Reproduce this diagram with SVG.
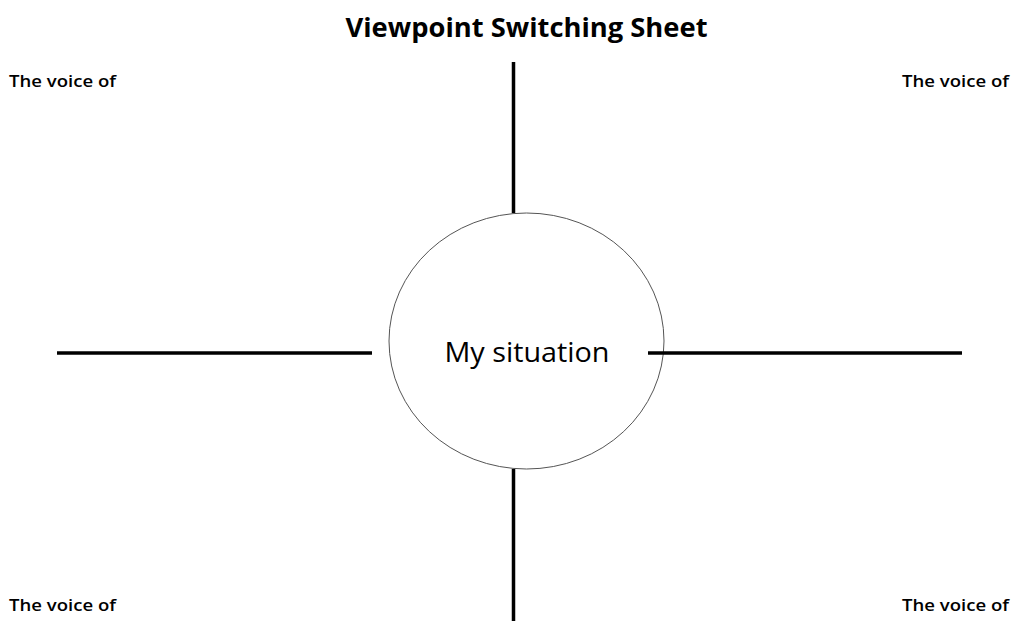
<svg xmlns="http://www.w3.org/2000/svg" width="1011" height="621" viewBox="0 0 1011 621">
  <style>
    .title { font-family: "Open Sans", "Noto Sans", sans-serif; font-weight: bold; font-size: 27px; fill: #000; }
    .voice { font-family: "Open Sans", "Noto Sans", sans-serif; font-weight: 600; font-size: 17px; fill: #000; }
    .center { font-family: "Open Sans", "Noto Sans", sans-serif; font-size: 27px; fill: #000; }
    .spoke { stroke: #000; stroke-width: 3.5; fill: none; }
  </style>
  <rect width="1011" height="621" fill="#fff"/>

  <text class="title" x="526.5" y="37" text-anchor="middle" textLength="362" lengthAdjust="spacingAndGlyphs">Viewpoint Switching Sheet</text>

  <g id="situation">
    <ellipse cx="526.5" cy="341" rx="137.5" ry="128" fill="#fff" stroke="#555" stroke-width="1"/>
    <text class="center" x="527" y="362" text-anchor="middle" textLength="165" lengthAdjust="spacingAndGlyphs">My situation</text>
  </g>

  <!-- four spokes around the central circle -->
  <g id="connectors">
    <line class="spoke" x1="513.5" y1="62" x2="513.5" y2="213"/>
    <line class="spoke" x1="513.5" y1="469" x2="513.5" y2="621"/>
    <line class="spoke" x1="57" y1="353" x2="372" y2="353"/>
    <line class="spoke" x1="648" y1="353" x2="962" y2="353"/>
  </g>

  <g id="voice-top-left">
    <text class="voice" x="9" y="87" textLength="107" lengthAdjust="spacingAndGlyphs">The voice of</text>
  </g>
  <g id="voice-top-right">
    <text class="voice" x="902" y="87" textLength="107" lengthAdjust="spacingAndGlyphs">The voice of</text>
  </g>
  <g id="voice-bottom-left">
    <text class="voice" x="9" y="611" textLength="107" lengthAdjust="spacingAndGlyphs">The voice of</text>
  </g>
  <g id="voice-bottom-right">
    <text class="voice" x="902" y="611" textLength="107" lengthAdjust="spacingAndGlyphs">The voice of</text>
  </g>
</svg>
